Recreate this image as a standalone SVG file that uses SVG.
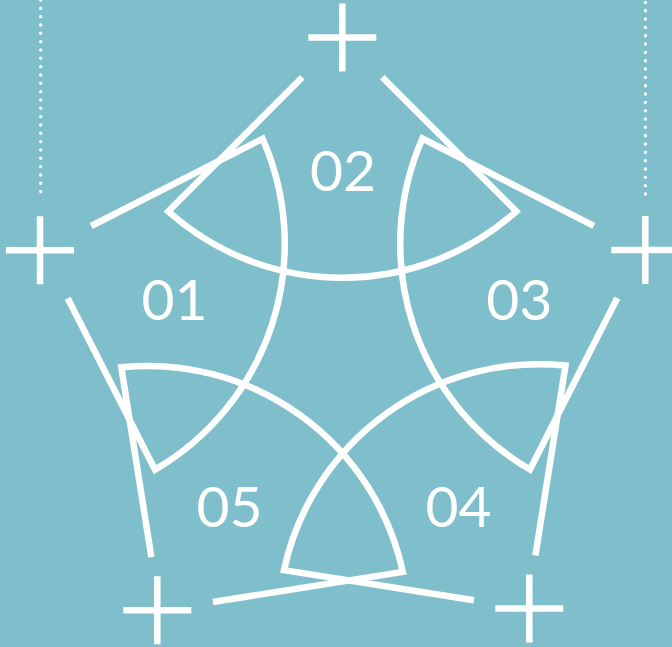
<svg xmlns="http://www.w3.org/2000/svg" width="672" height="647" viewBox="0 0 672 647">
  <defs>
    <style>
      .ln { fill: none; stroke: #ffffff; stroke-width: 6.5; stroke-linejoin: miter; stroke-miterlimit: 10; }
      .dots { fill: none; stroke: #ffffff; stroke-width: 3.4; stroke-linecap: round; stroke-dasharray: 0 8.33; }
      .num { fill: #ffffff; font-family: Lato, "Open Sans", "Liberation Sans", sans-serif; font-size: 57px; font-weight: 400; text-anchor: middle; }
    </style>
    <path id="petal" class="ln" d="M -40 40 L -174 174 A 261 261 0 0 0 174 174 L 40 40"/>
    <path id="petal-s" class="ln" d="M -38 38 L -174 174 A 261 261 0 0 0 174 174 L 38 38"/>
    <path id="plus" class="ln" d="M -34 0 H 34 M 0 -34 V 34"/>
  </defs>
  <rect x="0" y="0" width="672" height="647" fill="#7fbfcb"/>

  <g id="guides">
    <line class="dots" x1="40.7" y1="0" x2="40.7" y2="193"/>
    <line class="dots" x1="645.4" y1="2.4" x2="645.4" y2="195"/>
  </g>

  <g id="connectors">
    <use href="#petal" transform="translate(342.3,37.3)"/>
    <use href="#petal-s" transform="translate(43.3,250.4) rotate(-72)"/>
    <use href="#petal-s" transform="translate(641.7,250.2) rotate(72)"/>
    <use href="#petal-s" transform="translate(159.8,610.4) rotate(-144)"/>
    <use href="#petal-s" transform="translate(527,608.6) rotate(144)"/>
  </g>

  <g id="vertex-top"><use href="#plus" transform="translate(342.3,37.4)"/></g>
  <g id="vertex-left"><use href="#plus" transform="translate(40,250.2)"/></g>
  <g id="vertex-right"><use href="#plus" transform="translate(645.3,250)"/></g>
  <g id="vertex-bottom-left"><use href="#plus" transform="translate(157.3,610.2)"/></g>
  <g id="vertex-bottom-right"><use href="#plus" transform="translate(529.3,608.4)"/></g>

  <g id="node-01"><text class="num" x="174.6" y="319.5">01</text></g>
  <g id="node-02"><text class="num" x="343" y="190.5">02</text></g>
  <g id="node-03"><text class="num" x="519.3" y="320">03</text></g>
  <g id="node-04"><text class="num" x="458.5" y="526.5">04</text></g>
  <g id="node-05"><text class="num" x="229.5" y="526.5">05</text></g>
</svg>
